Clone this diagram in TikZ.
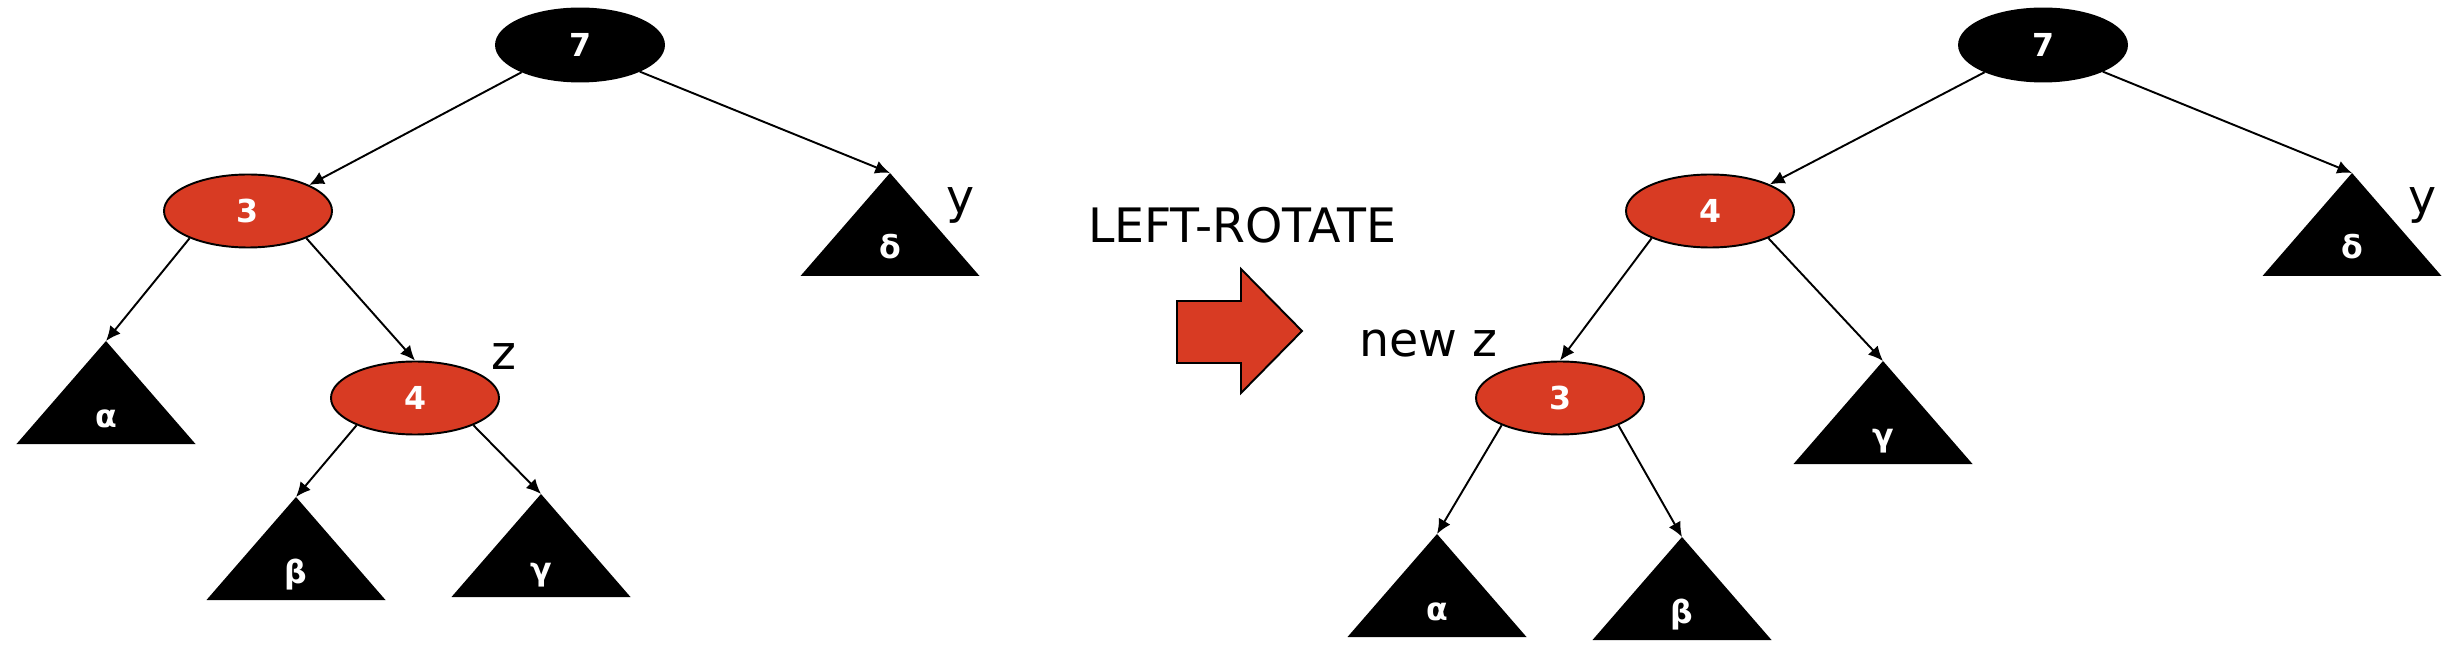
\documentclass[tikz,border=0pt]{standalone}
\usepackage{fontspec}
\setmainfont{DejaVu Sans}
\usepackage{tikz}
\usetikzlibrary{arrows.meta}
\usetikzlibrary{shapes.geometric}
\definecolor{rbred}{RGB}{216,59,35}
\tikzset{>={Latex[length=4.2pt,width=3.8pt]}}
\tikzset{
  rbnode/.style={ellipse, draw=black, line width=0.55pt, minimum width=1.68cm, minimum height=0.73cm, inner sep=0pt, text=white, font=\fontsize{9}{11}\selectfont\bfseries},
  rednode/.style={rbnode, fill=rbred},
  blacknode/.style={rbnode, fill=black},
  edge/.style={->, line width=0.55pt},
  lbl/.style={anchor=base, inner sep=0pt, font=\fontsize{13.5}{16}\selectfont},
}

\begin{document}
\begin{tikzpicture}
    \useasboundingbox (0,0) rectangle (24.57,-6.5);

    % subtrees: name/x/y/letter, (x,y) is the apex
    \foreach \n/\x/\y/\t in {la/1.06/-3.41/α, lb/2.96/-4.97/β, lg/5.41/-4.94/γ, ld/8.90/-1.73/δ,
                             ra/14.37/-5.34/α, rb/16.82/-5.37/β, rg/18.83/-3.61/γ, rd/23.52/-1.73/δ} {
        \fill (\x,\y) -- ++(-0.895,-1.03) -- ++(1.79,0) -- cycle;
        \coordinate (\n) at (\x,\y);
        \node[anchor=base, inner sep=0pt, text=white, font=\fontsize{9}{11}\selectfont\bfseries] (\n-t) at (\x,\y-0.86) {\t};
    }

    % before
    \node[blacknode] (L7) at (5.80,-0.45) {7};
    \node[rednode] (L3) at (2.48,-2.11) {3};
    \node[rednode] (L4) at (4.15,-3.98) {4};
    \draw[edge] (L7.205) -- (L3.23);
    \draw[edge] (L7.336) -- (ld);
    \draw[edge] (L3.205) -- (la);
    \draw[edge] (L3.335) -- (L4.north);
    \draw[edge] (L4.205) -- (lb);
    \draw[edge] (L4.335) -- (lg);
    \node[lbl] (zl) at (5.04,-3.70) {z};
    \node[lbl] (yl) at (9.61,-2.14) {y};

    % rotation
    \node[lbl] (rot) at (12.42,-2.43) {LEFT-ROTATE};
    \draw[fill=rbred, line width=0.55pt] (11.77,-3.01) -- (12.41,-3.01) -- (12.41,-2.69) -- (13.02,-3.31)
        -- (12.41,-3.93) -- (12.41,-3.63) -- (11.77,-3.63) -- cycle;
    \node[lbl, anchor=base west] (newz) at (13.59,-3.57) {new z};

    % after
    \node[blacknode] (R7) at (20.43,-0.45) {7};
    \node[rednode] (R4) at (17.10,-2.11) {4};
    \node[rednode] (R3) at (15.60,-3.98) {3};
    \draw[edge] (R7.205) -- (R4.24);
    \draw[edge] (R7.336) -- (rd);
    \draw[edge] (R4.205) -- (R3.north);
    \draw[edge] (R4.335) -- (rg);
    \draw[edge] (R3.205) -- (ra);
    \draw[edge] (R3.335) -- (rb);
    \node[lbl] (yr) at (24.23,-2.14) {y};
\end{tikzpicture}
\end{document}
